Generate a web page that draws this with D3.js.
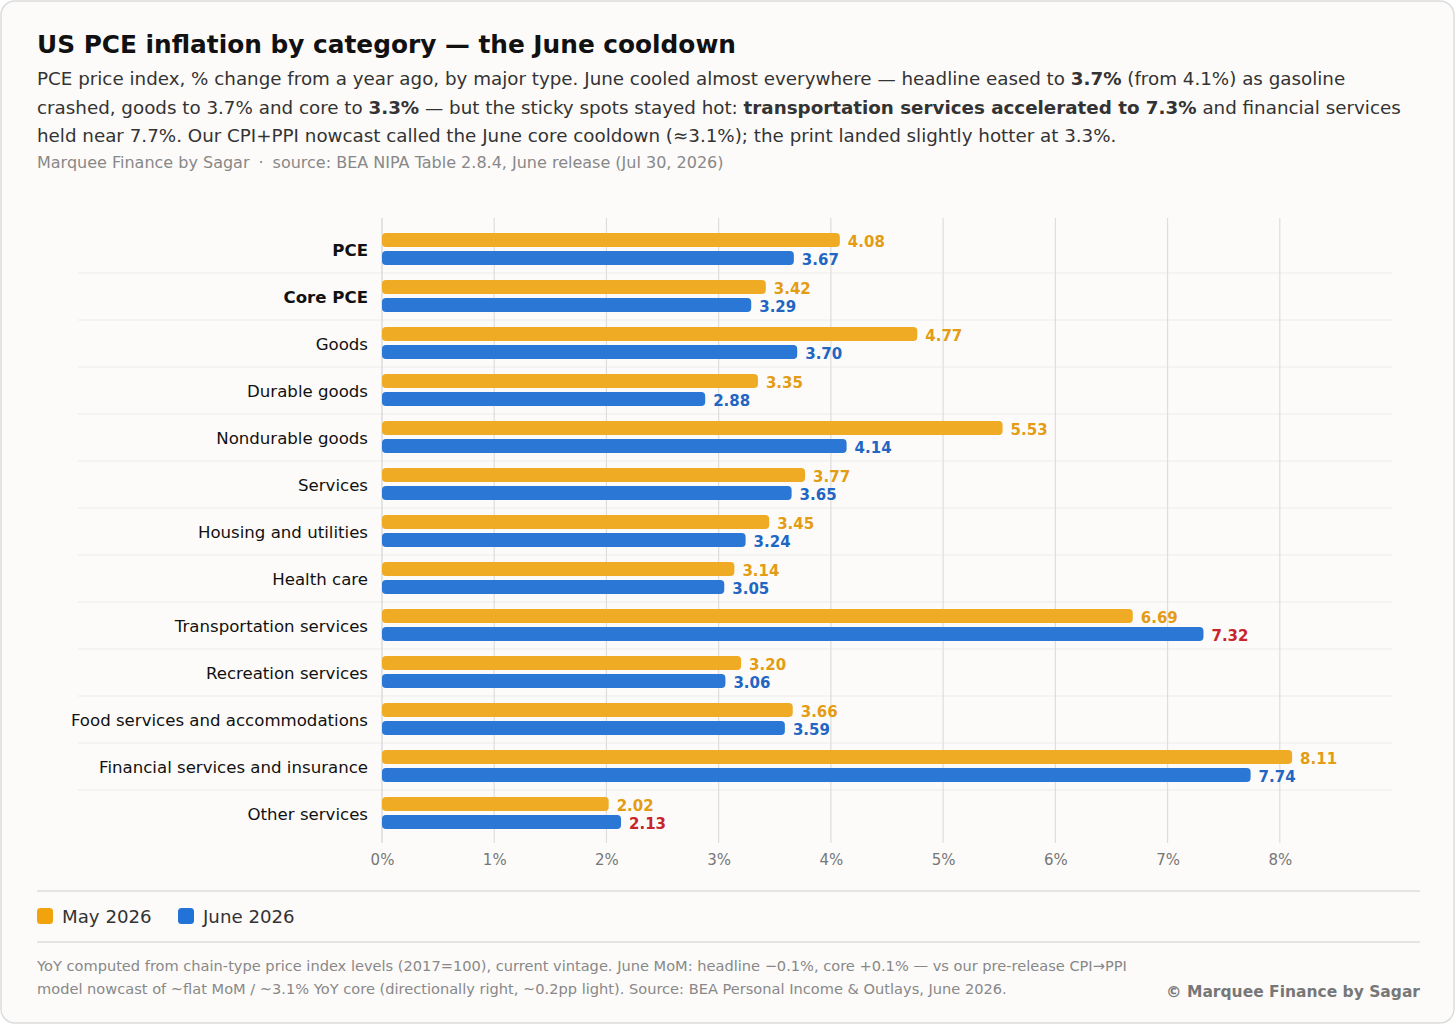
<!DOCTYPE html>
<html>
<head>
<meta charset="utf-8">
<script src="https://cdn.jsdelivr.net/npm/d3@7/dist/d3.min.js"></script>
<style>
  body { margin: 0; background: #ffffff; font-family: "DejaVu Sans", sans-serif; }
</style>
</head>
<body>
<div id="chart"></div>
<script>
var w = 1456; // page width
var h = 1025; // page height

// Data
var categories = ["PCE", "Core PCE", "Goods", "Durable goods", "Nondurable goods", "Services",
  "Housing and utilities", "Health care", "Transportation services", "Recreation services",
  "Food services and accommodations", "Financial services and insurance", "Other services"];
var boldCategories = ["PCE", "Core PCE"];
var may2026 = [4.08, 3.42, 4.77, 3.35, 5.53, 3.77, 3.45, 3.14, 6.69, 3.20, 3.66, 8.11, 2.02];
var june2026 = [3.67, 3.29, 3.70, 2.88, 4.14, 3.65, 3.24, 3.05, 7.32, 3.06, 3.59, 7.74, 2.13];
var seriesNames = ["May 2026", "June 2026"];
var xTicks = [0, 1, 2, 3, 4, 5, 6, 7, 8];

var colMay = "#f0ab25", colJune = "#2a77d6";
var labMay = "#e39c14", labJune = "#2266c4", labHot = "#c8242b";

var svg = d3.select("#chart").append("svg")
  .attr("width", w)
  .attr("height", h)
  .style("display", "block");

// Card
svg.append("rect")
  .attr("x", 1).attr("y", 1)
  .attr("width", w - 3).attr("height", h - 3)
  .attr("rx", 14)
  .attr("fill", "#fcfbf9")
  .attr("stroke", "#dcdcdc")
  .attr("stroke-width", 1.5);

// Title
svg.append("text")
  .attr("x", 37).attr("y", 53)
  .style("font-size", "24.8px")
  .style("font-weight", "bold")
  .attr("fill", "#111")
  .text("US PCE inflation by category \u2014 the June cooldown");

// Subtitle with bold pieces
var subLines = [
  [["PCE price index, % change from a year ago, by major type. June cooled almost everywhere \u2014 headline eased to ", false], ["3.7%", true], [" (from 4.1%) as gasoline", false]],
  [["crashed, goods to 3.7% and core to ", false], ["3.3%", true], [" \u2014 but the sticky spots stayed hot: ", false], ["transportation services accelerated to 7.3%", true], [" and financial services", false]],
  [["held near 7.7%. Our CPI+PPI nowcast called the June core cooldown (\u22483.1%); the print landed slightly hotter at 3.3%.", false]]
];
subLines.forEach(function(line, i) {
  var t = svg.append("text")
    .attr("x", 37).attr("y", 85 + i * 28.5)
    .style("font-size", "18.3px")
    .attr("fill", "#333");
  line.forEach(function(p) {
    t.append("tspan")
      .style("font-weight", p[1] ? "bold" : "normal")
      .text(p[0]);
  });
});

var src = svg.append("text")
  .attr("x", 37).attr("y", 168)
  .style("font-size", "16px")
  .attr("fill", "#888");
src.append("tspan").text("Marquee Finance by Sagar");
src.append("tspan").attr("dx", 9).text("\u00b7");
src.append("tspan").attr("dx", 9).text("source: BEA NIPA Table 2.8.4, June release (Jul 30, 2026)");

// Scales
var xScale = d3.scaleLinear().domain([0, 9]).range([382, 1392]);
var yScale = d3.scaleBand().domain(categories).range([226, 837]).padding(0);
var inner = d3.scaleBand().domain(seriesNames).range([7, 39]).paddingInner(0.2222);

// Row separators
svg.append("g").selectAll("line")
  .data(categories.slice(1))
  .enter().append("line")
  .attr("x1", 78).attr("x2", 1392)
  .attr("y1", function(d) { return yScale(d); })
  .attr("y2", function(d) { return yScale(d); })
  .attr("stroke", "#ececec")
  .attr("stroke-width", 1.2);

// Vertical grid lines
svg.append("g").selectAll("line")
  .data(xTicks)
  .enter().append("line")
  .attr("x1", function(d) { return xScale(d); })
  .attr("x2", function(d) { return xScale(d); })
  .attr("y1", 218).attr("y2", 843)
  .attr("stroke", function(d) { return d === 0 ? "#d4d4d4" : "#dddddd"; })
  .attr("stroke-width", 1.2);

// X axis tick labels
var xAxis = d3.axisBottom(xScale)
  .tickValues(xTicks)
  .tickFormat(function(d) { return d + "%"; })
  .tickSize(0)
  .tickPadding(0);
var gx = svg.append("g")
  .attr("transform", "translate(0, 854)")
  .call(xAxis);
gx.select(".domain").remove();
gx.selectAll("text")
  .style("font-size", "15px")
  .style("font-family", "DejaVu Sans, sans-serif")
  .attr("fill", "#777");

// Category labels
svg.append("g").selectAll("text")
  .data(categories)
  .enter().append("text")
  .attr("x", 368)
  .attr("y", function(d) { return yScale(d) + yScale.bandwidth() / 2 + 1; })
  .attr("dy", "0.35em")
  .attr("text-anchor", "end")
  .style("font-size", "16.6px")
  .style("font-weight", function(d) { return boldCategories.indexOf(d) >= 0 ? "bold" : "normal"; })
  .attr("fill", "#111")
  .text(function(d) { return d; });

// Bars
var rows = categories.map(function(c, i) {
  return { cat: c, may: may2026[i], june: june2026[i] };
});

function drawSeries(key, name, fill, labelColor) {
  svg.append("g").selectAll("rect")
    .data(rows)
    .enter().append("rect")
    .attr("x", xScale(0))
    .attr("y", function(d) { return yScale(d.cat) + inner(name); })
    .attr("width", function(d) { return xScale(d[key]) - xScale(0); })
    .attr("height", inner.bandwidth())
    .attr("rx", 4)
    .attr("fill", fill);

  svg.append("g").selectAll("text")
    .data(rows)
    .enter().append("text")
    .attr("x", function(d) { return xScale(d[key]) + 8; })
    .attr("y", function(d) { return yScale(d.cat) + inner(name) + inner.bandwidth() / 2 + 1.5; })
    .attr("dy", "0.36em")
    .style("font-size", "15px")
    .style("font-weight", "bold")
    .attr("fill", labelColor)
    .text(function(d) { return d[key].toFixed(2); });
}

drawSeries("may", seriesNames[0], colMay, function() { return labMay; });
drawSeries("june", seriesNames[1], colJune, function(d) { return d.june > d.may ? labHot : labJune; });

// Rules
[891, 942].forEach(function(y) {
  svg.append("line")
    .attr("x1", 37).attr("x2", 1420)
    .attr("y1", y).attr("y2", y)
    .attr("stroke", "#dddddd")
    .attr("stroke-width", 1.5);
});

// Legend
var legendItems = [
  { name: seriesNames[0], color: "#f0a30c", x: 37 },
  { name: seriesNames[1], color: "#2272d8", x: 178 }
];
var lg = svg.append("g").selectAll("g")
  .data(legendItems)
  .enter().append("g");
lg.append("rect")
  .attr("x", function(d) { return d.x; })
  .attr("y", 908)
  .attr("width", 16).attr("height", 16)
  .attr("rx", 3.5)
  .attr("fill", function(d) { return d.color; });
lg.append("text")
  .attr("x", function(d) { return d.x + 25; })
  .attr("y", 923)
  .style("font-size", "18.2px")
  .attr("fill", "#333")
  .text(function(d) { return d.name; });

// Footnote
var notes = [
  "YoY computed from chain-type price index levels (2017=100), current vintage. June MoM: headline \u22120.1%, core +0.1% \u2014 vs our pre-release CPI\u2192PPI",
  "model nowcast of ~flat MoM / ~3.1% YoY core (directionally right, ~0.2pp light). Source: BEA Personal Income & Outlays, June 2026."
];
svg.append("g").selectAll("text")
  .data(notes)
  .enter().append("text")
  .attr("x", 37)
  .attr("y", function(d, i) { return 971 + i * 23; })
  .style("font-size", "14.6px")
  .attr("fill", "#888")
  .text(function(d) { return d; });

svg.append("text")
  .attr("x", 1420).attr("y", 997)
  .attr("text-anchor", "end")
  .style("font-size", "15.5px")
  .style("font-weight", "bold")
  .attr("fill", "#777")
  .text("\u00a9 Marquee Finance by Sagar");
</script>
</body>
</html>
